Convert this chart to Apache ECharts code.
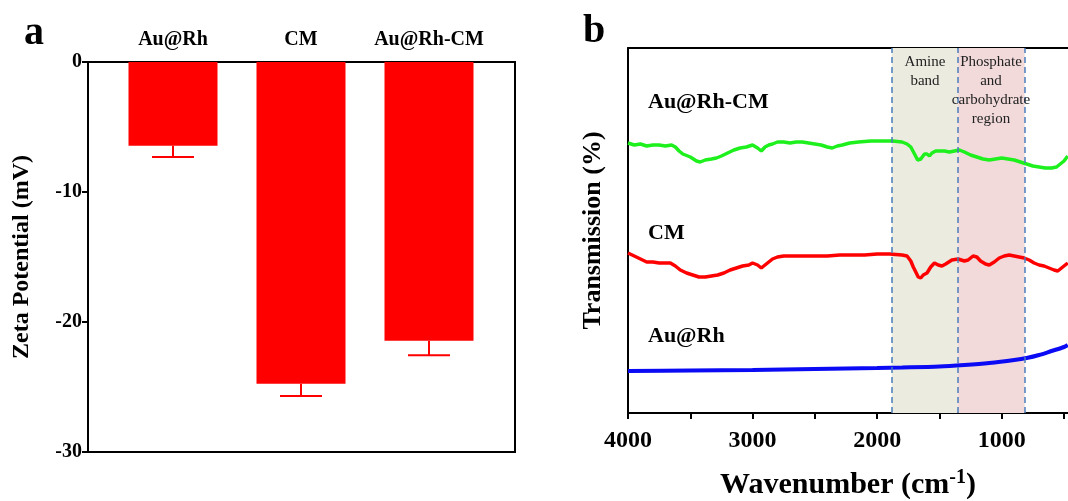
<!DOCTYPE html>
<html><head><meta charset="utf-8">
<script src="https://cdn.jsdelivr.net/npm/echarts@6/dist/echarts.min.js"></script>
<style>html,body{margin:0;padding:0;background:#fff}#c{width:1068px;height:501px}</style>
</head><body><div id="c"></div>
<script>
// ---- Panel a: zeta potential ----
const zetaCategories = ['Au@Rh', 'CM', 'Au@Rh-CM'];
const zetaValues = [-6.45, -24.75, -21.45];
const zetaErrors = [0.85, 0.95, 1.1];
const zetaTicks = [0, -10, -20, -30];

// ---- Panel b: FTIR ----
const greenWn = [4000,3950,3900,3850,3800,3750,3700,3650,3620,3590,3560,3500,3450,3420,3380,3330,3290,3250,3200,3150,3100,3050,3000,2960,2930,2900,2870,2840,2800,2750,2700,2650,2600,2550,2500,2450,2400,2360,2320,2280,2220,2150,2050,1950,1875,1800,1760,1730,1700,1675,1650,1620,1600,1580,1560,1530,1500,1460,1420,1380,1340,1300,1250,1200,1150,1100,1050,1000,950,900,850,800,750,700,650,600,560,530,500,470];
const greenVal = [270,268,269,267,268,268,267,268,266,262,259,256,252,251,253,254,255,257,260,263,265,266,268,265,262,266,268,269,271,271,270,271,271,270,269,268,266,265,267,268,270,271,272,272,272,271,269,266,259,253,254,259,259,257,260,262,262,262,261,262,263,261,258,256,254,253,254,255,254,253,251,249,247,246,245,245,246,249,252,257];
const redWn = [4000,3950,3900,3850,3800,3750,3700,3660,3620,3580,3530,3480,3430,3380,3330,3280,3230,3180,3130,3080,3030,3000,2960,2930,2900,2870,2840,2800,2750,2700,2600,2500,2400,2300,2200,2100,2000,1900,1800,1760,1730,1710,1690,1670,1650,1630,1600,1570,1540,1510,1480,1450,1400,1350,1300,1270,1230,1200,1170,1130,1100,1060,1020,980,940,900,860,820,780,740,700,660,620,580,550,520,490,470];
const redVal = [160,157,154,151,151,150,150,150,147,143,140,138,136,136,137,138,140,143,145,147,148,150,148,145,148,151,154,156,157,157,157,157,157,158,158,158,159,159,158,157,152,146,141,136,135,138,140,146,150,148,147,149,153,154,152,153,157,156,152,149,148,151,155,157,158,157,156,155,153,150,148,147,145,143,142,145,148,150];
const blueWn = [4000,3500,3000,2500,2000,1800,1500,1300,1100,900,800,700,600,500,470];
const blueVal = [42,42.5,43,44,45,45.5,46.5,48,50,53,55,58,62,66,68];
const xTickLabels = [4000, 3000, 2000, 1000];
const xMinorTicks = [4000, 3500, 3000, 2500, 2000, 1500, 1000, 500];
const amineBand = [1883, 1354];
const phosphateBand = [1354, 816];
const seriesNames = ['Au@Rh-CM', 'CM', 'Au@Rh'];

const SERIF = '"Liberation Serif","Times New Roman",serif';
const zip = (a, b) => a.map((v, i) => [v, b[i]]);

const chart = echarts.init(document.getElementById('c'), null, {renderer: 'canvas'});
chart.setOption({
  animation: false,
  backgroundColor: '#fff',
  textStyle: {fontFamily: SERIF},
  grid: [
    {left: 88, top: 62, width: 427, height: 390, show: true, borderColor: '#000', borderWidth: 2, backgroundColor: 'transparent', outerBoundsMode: 'none', containLabel: false},
    {left: 109, top: 62, width: 384, height: 390, outerBoundsMode: 'none', containLabel: false},
    {left: 628, top: 48, right: 0, height: 365, outerBoundsMode: 'none', containLabel: false}
  ],
  xAxis: [
    {gridIndex: 0, type: 'category', data: zetaCategories, show: false},
    {gridIndex: 1, type: 'category', data: zetaCategories, position: 'top',
      axisLine: {show: false}, axisTick: {show: false},
      axisLabel: {interval: 0, margin: 12, fontSize: 20, fontWeight: 'bold', color: '#000', fontFamily: SERIF}},
    {gridIndex: 2, type: 'value', inverse: true, min: 468, max: 4000, position: 'bottom',
      splitLine: {show: false},
      axisLine: {onZero: false, lineStyle: {color: '#000', width: 2}},
      axisTick: {show: true, length: 6, lineStyle: {color: '#000', width: 2}, customValues: xMinorTicks},
      axisLabel: {margin: 16, fontSize: 24, fontWeight: 'bold', color: '#000', fontFamily: SERIF,
        customValues: xTickLabels, formatter: (v) => String(v), hideOverlap: false},
      name: 'Wavenumber (cm{sup|-1})', nameLocation: 'middle', nameGap: 55,
      nameTextStyle: {fontSize: 30, fontWeight: 'bold', color: '#000', fontFamily: SERIF,
        rich: {sup: {fontSize: 20, fontWeight: 'bold', verticalAlign: 'top', padding: [0, 0, 14, 0], fontFamily: SERIF}}}},
    {gridIndex: 2, type: 'value', inverse: true, min: 468, max: 4000, position: 'top',
      axisLine: {onZero: false, lineStyle: {color: '#000', width: 2}},
      axisTick: {show: false}, axisLabel: {show: false}, splitLine: {show: false}}
  ],
  yAxis: [
    {gridIndex: 0, type: 'value', min: -30, max: 0, interval: 10,
      splitLine: {show: false},
      axisLine: {show: true, lineStyle: {color: '#000', width: 2}},
      axisTick: {show: true, length: 6, lineStyle: {color: '#000', width: 2}},
      axisLabel: {margin: 6, fontSize: 20, fontWeight: 'bold', color: '#000', fontFamily: SERIF},
      name: 'Zeta Potential (mV)', nameLocation: 'middle', nameGap: 54,
      nameTextStyle: {fontSize: 24, fontWeight: 'bold', color: '#000', fontFamily: SERIF}},
    {gridIndex: 1, type: 'value', min: -30, max: 0, show: false},
    {gridIndex: 2, type: 'value', min: 0, max: 365,
      splitLine: {show: false}, axisTick: {show: false}, axisLabel: {show: false},
      axisLine: {show: true, lineStyle: {color: '#000', width: 2}},
      name: 'Transmission (%)', nameLocation: 'middle', nameGap: 22,
      nameTextStyle: {fontSize: 26, fontWeight: 'bold', color: '#000', fontFamily: SERIF}}
  ],
  series: [
    {type: 'bar', xAxisIndex: 1, yAxisIndex: 1, data: zetaValues, barWidth: 89,
      itemStyle: {color: '#ff0000'}},
    {type: 'custom', xAxisIndex: 1, yAxisIndex: 1,
      data: zetaValues.map((v, i) => [i, v, zetaErrors[i]]),
      encode: {x: 0, y: 1},
      renderItem: function (params, api) {
        const i = api.value(0), v = api.value(1), e = api.value(2);
        const p0 = api.coord([i, v]);
        const p1 = api.coord([i, v - e]);
        const half = 21;
        const st = {stroke: '#ff0000', lineWidth: 2};
        return {type: 'group', children: [
          {type: 'line', shape: {x1: p0[0], y1: p0[1], x2: p1[0], y2: p1[1]}, style: st},
          {type: 'line', shape: {x1: p1[0] - half, y1: p1[1], x2: p1[0] + half, y2: p1[1]}, style: st}
        ]};
      }},
    {type: 'line', xAxisIndex: 2, yAxisIndex: 2, data: [], silent: true, z: 1,
      markArea: {silent: true, data: [
        [{xAxis: amineBand[0], itemStyle: {color: '#ecebe0'}}, {xAxis: amineBand[1]}],
        [{xAxis: phosphateBand[0], itemStyle: {color: '#f2dada'}}, {xAxis: phosphateBand[1]}]
      ]},
      markLine: {silent: true, symbol: 'none', label: {show: false},
        lineStyle: {color: '#4a7ebb', type: [6, 4], width: 1.5},
        data: [{xAxis: amineBand[0]}, {xAxis: amineBand[1]}, {xAxis: phosphateBand[1]}]}},
    {type: 'line', name: seriesNames[2], xAxisIndex: 2, yAxisIndex: 2, data: zip(blueWn, blueVal), z: 3,
      showSymbol: false, smooth: 0.3, lineStyle: {color: '#0a0af5', width: 4}},
    {type: 'line', name: seriesNames[1], xAxisIndex: 2, yAxisIndex: 2, data: zip(redWn, redVal), z: 3,
      showSymbol: false, lineStyle: {color: '#ff0000', width: 3.5}},
    {type: 'line', name: seriesNames[0], xAxisIndex: 2, yAxisIndex: 2, data: zip(greenWn, greenVal), z: 3,
      showSymbol: false, lineStyle: {color: '#1df01d', width: 3.5}}
  ],
  graphic: [
    {type: 'text', z: 100, left: 24, top: 14, style: {text: 'a', font: 'bold 40px ' + SERIF, fill: '#000'}},
    {type: 'text', z: 100, left: 583, top: 12, style: {text: 'b', font: 'bold 40px ' + SERIF, fill: '#000'}},
    {type: 'text', z: 100, left: 648, top: 91, style: {text: seriesNames[0], font: 'bold 22px ' + SERIF, fill: '#000'}},
    {type: 'text', z: 100, left: 648, top: 222, style: {text: seriesNames[1], font: 'bold 22px ' + SERIF, fill: '#000'}},
    {type: 'text', z: 100, left: 648, top: 325, style: {text: seriesNames[2], font: 'bold 22px ' + SERIF, fill: '#000'}},
    {type: 'text', z: 100, x: 925, y: 53, style: {x: 0, y: 0, text: 'Amine\nband', font: '15px ' + SERIF, fill: '#222', align: 'center', verticalAlign: 'top', lineHeight: 19}},
    {type: 'text', z: 100, x: 991, y: 53, style: {x: 0, y: 0, text: 'Phosphate\nand\ncarbohydrate\nregion', font: '15px ' + SERIF, fill: '#222', align: 'center', verticalAlign: 'top', lineHeight: 19}}
  ]
});
</script></body></html>
